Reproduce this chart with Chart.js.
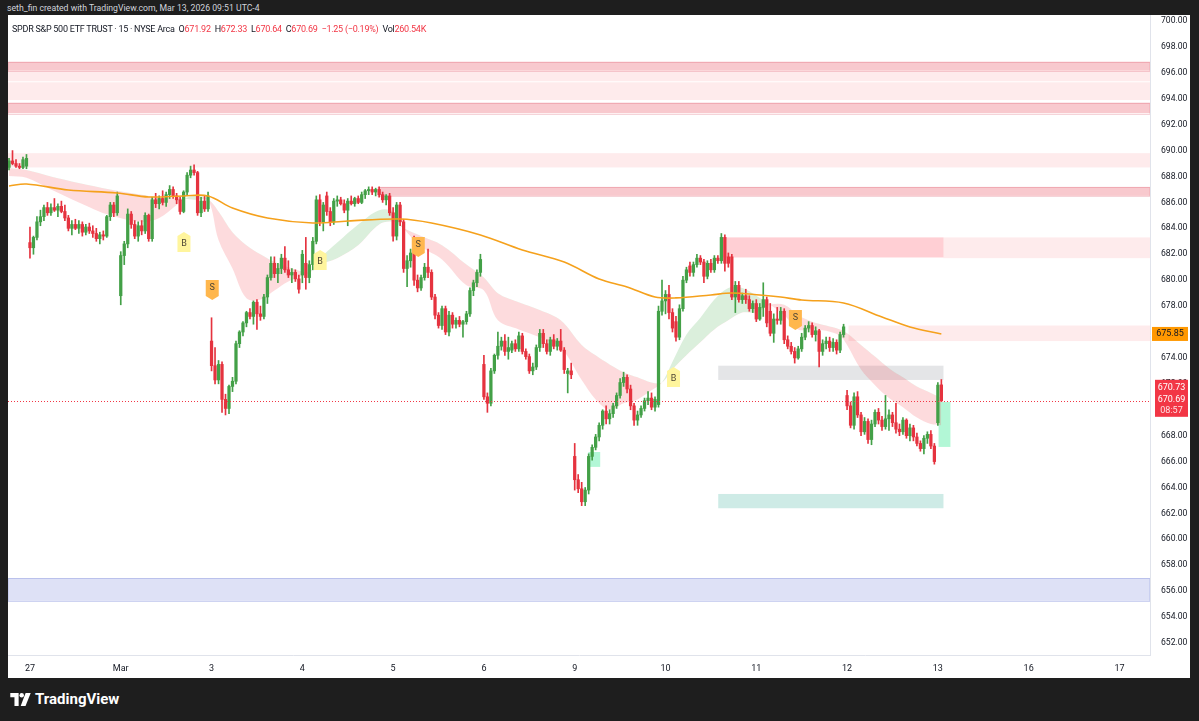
<!DOCTYPE html>
<html><head><meta charset="utf-8">
<script src="https://cdn.jsdelivr.net/npm/chart.js@4.4.1/dist/chart.umd.min.js"></script>
<style>
html,body{margin:0;padding:0;background:#1e1e1e;width:1199px;height:721px;overflow:hidden;font-family:Roboto,"Liberation Sans",sans-serif;}
#credit{position:absolute;left:7px;top:2px;color:#d1d4dc;font-size:8.7px;line-height:12px;white-space:nowrap;}
#panel{position:absolute;left:8px;top:15px;width:1182px;height:663px;background:#fff;}
#cv{position:absolute;left:0;top:0;}
#legend{position:absolute;left:4px;top:9px;font-size:9px;letter-spacing:-0.25px;line-height:11px;color:#131722;white-space:nowrap;}
#legend .r{color:#f23645;}
#logo{position:absolute;left:10px;top:690px;color:#fff;font-size:15px;font-weight:bold;display:flex;align-items:center;gap:4px;font-family:Roboto,sans-serif;}
</style></head>
<body>
<div id="credit">seth_fin created with TradingView.com, Mar 13, 2026 09:51 UTC-4</div>
<div id="panel">
  <canvas id="cv" width="1182" height="663"></canvas>
  <div id="legend">SPDR S&amp;P 500 ETF TRUST · 15 · NYSE Arca &nbsp;O<span class="r">671.92</span> &nbsp;H<span class="r">672.33</span> &nbsp;L<span class="r">670.64</span> &nbsp;C<span class="r">670.69</span> &nbsp;<span class="r">−1.25 (−0.19%)</span> &nbsp;Vol<span class="r">260.54K</span></div>
</div>
<div id="logo"><svg width="21" height="13" viewBox="0 0 22 14"><path d="M0 0h9v14h-4.5V4.5H0z" fill="#fff"/><circle cx="12.3" cy="2.4" r="2.4" fill="#fff"/><path d="M16.5 0h5.5l-5.6 14h-5.2z" fill="#fff"/></svg><span>TradingView</span></div>
<script>
// ---- time axis (bar index of each session's first 15-min bar) ----
const dayIdx = [6, 32, 58, 84, 110, 136, 162, 188, 214, 240, 266, 292, 318];
const dayLabels = ['27', 'Mar', '3', '4', '5', '6', '9', '10', '11', '12', '13', '16', '17'];
const priceTicks = [652,654,656,658,660,662,664,666,668,670,672,674,676,678,680,682,684,686,688,690,692,694,696,698,700];

// ---- 15-minute OHLC candles, bar 0 = Feb 26 late session ----
const opens = [
 688.7,689.2,689.0,688.8,688.7,688.8,
 682.9,682.5,683.3,684.5,684.9,685.6,685.2,685.6,685.4,685.7,685.3,684.8,684.0,684.3,684.0,684.3,683.7,684.1,683.8,683.6,683.2,683.5,683.4,684.9,685.8,685.2,
 678.8,681.9,682.8,685.1,684.3,683.4,684.2,683.8,685.0,683.2,686.2,685.9,686.3,686.0,686.6,687.0,686.5,686.2,685.3,686.8,688.1,688.5,688.3,685.2,686.1,685.5,
 675.3,673.4,672.3,673.5,670.8,670.1,671.8,672.2,675.1,676.0,676.7,677.5,677.2,678.3,677.4,677.2,678.7,680.2,681.3,680.5,680.9,681.7,680.8,680.4,680.6,680.1,
 680.4,681.3,680.2,681.2,683.0,686.2,684.5,686.5,685.3,684.5,686.1,686.2,685.9,685.4,686.1,685.9,686.3,686.0,686.6,686.9,687.0,686.8,687.0,686.6,686.2,686.5,
 685.2,683.4,685.8,684.5,680.9,681.5,682.1,680.0,679.4,680.2,681.0,680.6,678.7,677.3,676.5,677.8,676.0,677.3,676.6,676.9,676.6,676.8,677.4,679.2,679.8,680.6,
 673.5,671.0,670.5,673.0,674.2,674.9,675.3,674.5,674.6,675.1,674.7,675.7,674.5,674.1,673.0,673.3,674.8,675.9,675.1,674.5,675.4,674.9,675.3,674.6,672.8,673.0,
 666.4,664.6,663.9,662.9,663.8,666.4,667.1,667.9,668.8,669.9,669.3,669.7,670.3,671.1,672.1,672.5,671.6,670.3,669.2,669.6,670.1,670.7,670.9,670.2,670.4,677.6,
 678.4,678.9,677.5,676.8,675.6,677.8,680.0,681.1,680.6,681.2,681.7,681.4,680.3,681.3,680.8,681.7,681.5,683.3,681.8,681.8,678.7,679.6,678.5,678.8,678.5,677.8,
 678.2,677.0,677.9,678.5,677.6,675.9,677.0,676.9,677.6,675.4,674.9,674.5,674.0,674.7,675.6,676.3,676.5,675.8,676.1,674.5,675.1,675.3,674.8,675.2,674.6,675.8,
 671.1,670.3,668.8,671.0,669.6,668.3,669.1,667.7,668.9,669.8,669.2,668.7,669.3,669.6,669.0,668.5,668.3,669.2,668.0,668.6,667.9,667.4,667.0,667.8,668.1,667.2,
 669.0,671.92];
const highs = [
 689.4,690.0,689.3,689.0,689.5,689.7,
 684.1,683.4,684.9,685.4,685.8,686.0,685.9,686.3,685.9,686.1,685.8,685.0,684.6,684.7,684.6,684.5,684.3,684.4,684.2,684.0,683.7,683.8,685.0,686.0,686.0,686.8,
 682.2,683.0,685.5,685.3,684.6,684.5,684.6,685.2,685.1,686.4,686.7,686.5,686.9,686.8,687.3,687.2,686.7,686.4,686.9,688.3,688.8,688.9,688.4,686.4,686.5,686.8,
 677.1,674.8,673.8,673.7,671.2,671.9,672.5,675.3,676.1,676.8,677.6,677.8,678.4,678.5,678.0,678.9,680.4,681.8,681.8,681.3,682.0,682.6,681.5,680.9,680.8,680.4,
 682.3,683.3,681.5,683.3,686.5,686.6,686.0,686.8,685.6,686.3,686.5,686.4,686.2,686.3,686.5,686.4,686.5,686.8,687.0,687.2,687.2,687.1,687.2,686.8,686.6,686.7,
 685.6,686.0,686.0,684.7,681.9,682.4,683.4,680.4,680.4,681.3,682.4,680.8,678.9,677.5,678.0,678.0,677.6,677.5,677.1,677.2,676.9,677.6,679.4,680.0,680.8,682.0,
 674.2,671.3,673.2,674.3,676.0,675.6,675.8,675.6,675.3,675.4,676.0,675.9,674.7,674.3,673.6,675.0,676.2,676.2,675.4,675.6,675.8,675.5,676.2,674.8,673.2,673.6,
 667.4,665.0,664.4,664.0,666.6,667.3,668.1,669.0,670.0,670.3,670.0,670.5,671.3,672.4,672.9,672.7,671.9,670.5,669.9,670.3,670.9,671.4,671.3,671.0,678.0,680.0,
 679.2,679.6,677.8,677.2,678.1,680.3,681.0,681.4,681.4,682.0,681.9,681.6,681.5,681.6,681.9,681.9,683.6,683.5,682.1,682.0,679.9,679.9,679.0,679.3,678.8,678.4,
 678.5,678.2,679.8,678.7,678.2,677.4,677.9,677.9,677.8,675.7,675.2,674.8,674.9,675.9,676.5,676.8,676.7,676.4,676.2,675.4,675.6,675.6,675.5,675.4,676.0,676.6,
 671.5,670.6,671.3,671.4,669.8,669.4,669.3,669.2,670.0,670.1,669.5,671.1,670.0,669.8,670.5,668.9,669.4,669.3,668.9,668.8,668.2,667.6,668.0,668.3,668.4,667.4,
 672.1,672.33];
const lows = [
 688.5,688.9,688.7,688.6,688.6,688.6,
 681.7,682.0,683.1,684.2,684.6,685.0,685.0,685.3,684.9,685.2,684.6,683.8,683.5,683.9,683.6,683.4,683.5,683.6,683.3,683.0,682.8,683.1,683.3,684.6,684.9,685.0,
 678.1,681.2,682.5,684.0,683.2,683.0,683.5,683.6,683.0,683.0,685.6,685.5,685.8,685.7,686.3,686.3,685.9,685.1,685.2,686.6,687.9,688.1,685.0,684.9,685.3,685.3,
 673.0,672.0,672.0,669.8,669.6,669.7,671.4,672.0,674.8,675.7,676.4,677.0,676.6,676.2,676.9,677.0,678.2,680.0,680.2,679.8,680.5,680.6,680.2,679.8,679.9,679.0,
 679.8,679.3,679.8,680.8,682.8,684.2,683.8,685.0,684.2,684.3,685.7,685.8,685.2,684.2,685.8,685.7,685.9,685.9,686.3,686.6,686.6,686.5,686.4,686.0,685.8,685.0,
 683.0,683.1,684.2,680.6,679.5,681.0,679.6,679.1,679.2,680.0,680.2,678.5,677.0,676.3,676.2,675.8,675.7,676.3,676.3,676.4,675.6,676.6,677.2,678.8,679.5,680.3,
 670.8,669.8,670.3,672.8,673.9,674.6,674.2,673.9,674.4,674.5,674.5,674.3,673.9,672.8,672.7,673.1,674.5,674.8,674.3,674.2,674.7,674.6,674.5,672.8,671.3,672.4,
 663.8,663.6,662.6,662.6,663.5,666.1,666.9,667.6,668.5,668.9,668.9,669.4,670.1,670.9,671.8,671.3,670.0,668.8,668.8,669.4,669.9,670.4,670.0,669.9,670.2,677.3,
 677.4,677.0,676.0,675.3,675.4,677.6,679.8,680.3,680.3,681.0,681.2,679.8,680.1,680.6,680.6,681.3,681.3,680.7,681.0,678.5,677.5,678.3,678.2,678.2,677.6,677.5,
 676.8,676.9,677.2,676.4,675.7,675.2,676.6,676.6,675.1,674.7,674.3,673.6,673.9,674.5,675.4,676.0,675.6,675.3,673.3,674.2,674.7,674.5,674.5,674.3,674.4,675.6,
 670.0,668.6,668.5,669.4,668.0,668.1,667.4,667.3,668.7,668.9,668.4,668.5,668.4,668.7,668.2,668.0,668.1,667.8,667.6,667.6,667.2,666.8,666.6,667.4,667.0,665.8,
 668.8,670.64];
const closes = [
 689.2,689.0,688.8,688.7,689.3,689.4,
 682.5,683.3,684.5,684.9,685.6,685.2,685.6,685.4,685.7,685.3,684.8,684.0,684.3,684.0,684.3,683.7,684.1,683.8,683.6,683.2,683.5,683.4,684.9,685.8,685.2,686.5,
 681.9,682.8,685.1,684.3,683.4,684.2,683.8,685.0,683.2,686.2,685.9,686.3,686.0,686.6,687.0,686.5,686.2,685.3,686.8,688.1,688.5,688.3,685.2,686.1,685.5,686.5,
 673.4,672.3,673.5,670.8,670.1,671.8,672.2,675.1,676.0,676.7,677.5,677.2,678.3,677.4,677.2,678.7,680.2,681.3,680.5,680.9,681.7,680.8,680.4,680.6,680.1,679.3,
 682.0,680.2,681.2,683.0,686.2,684.5,685.8,685.3,684.5,686.1,686.2,685.9,685.4,686.1,685.9,686.3,686.0,686.6,686.9,687.0,686.8,687.0,686.6,686.2,686.5,685.2,
 683.4,685.8,684.5,680.9,681.5,682.1,680.0,679.4,680.2,681.0,680.6,678.7,677.3,676.5,677.8,676.0,677.3,676.6,676.9,676.6,676.8,677.4,679.2,679.8,680.6,681.6,
 671.0,670.5,673.0,674.2,674.9,675.3,674.5,674.8,675.1,674.7,675.7,674.5,674.1,673.0,673.3,674.8,675.9,675.1,674.5,675.4,674.9,675.3,674.6,673.1,673.0,672.7,
 664.6,663.9,662.9,663.8,666.4,667.1,667.9,668.8,669.9,669.3,669.7,670.3,671.1,672.1,672.5,671.6,670.3,669.2,669.6,670.1,670.7,670.9,670.2,670.8,677.6,678.4,
 678.9,677.5,676.3,675.6,677.8,680.0,680.8,680.6,681.2,681.7,681.4,680.3,681.3,680.8,681.7,681.5,683.3,681.3,681.3,678.7,679.6,678.5,678.8,678.5,677.8,678.2,
 677.0,677.9,678.5,676.7,675.9,677.0,676.9,677.6,675.4,674.9,674.5,674.0,674.7,675.6,676.3,676.5,675.8,676.1,674.5,675.1,675.3,674.8,675.2,674.6,675.8,676.4,
 670.3,668.8,671.0,669.6,668.3,669.1,667.7,668.9,669.8,669.2,668.7,669.3,669.6,669.0,668.5,668.3,669.2,668.0,668.6,667.9,667.4,667.0,667.8,668.1,667.2,666.0,
 671.9,670.69];

// ---- trend ribbon (fast / slow averages) at sample bars ----
const ribbonIdx  = [0,5,12,20,29,38,43,48,50,53,57,60,64,68,72,76,80,86,88,94,100,106,110,113,118,124,131,136,140,146,152,158,164,168,172,176,180,184,187,190,194,198,202,206,210,214,218,222,226,230,234,238,240,244,248,252,256,260,264,267];
const ribbonFast = [688.04,687.9,687.0,686.0,685.0,684.5,684.8,685.8,686.25,686.5,686.2,683.1,680.9,678.6,678.5,679.2,679.9,680.6,681.4,682.9,684.3,685.4,685.3,684.0,682.6,681.6,679.6,679.2,676.9,676.2,675.6,674.8,672.3,670.8,670.0,670.5,670.8,671.5,672.1,673.7,675.8,677.1,678.5,679.4,679.4,678.8,678.1,677.3,676.2,676.2,676.1,675.7,675.0,673.1,671.9,670.9,670.2,669.4,668.9,668.8];
const ribbonSlow = [688.66,688.5,688.0,687.5,687.0,686.6,686.4,686.3,686.3,686.2,686.2,685.3,683.7,682.7,682.0,681.4,681.0,680.6,681.1,681.7,682.7,684.3,684.5,684.0,683.4,682.7,681.2,680.2,679.0,678.3,677.7,676.9,675.0,674.2,673.5,672.9,672.5,672.1,672.1,673.1,674.2,675.2,676.2,676.9,677.5,677.5,678.1,678.1,677.3,676.8,676.5,676.2,675.9,675.0,674.1,673.2,672.5,671.8,671.3,670.9];

// ---- long moving average (orange) ----
const maIdx = [0,5,17,31,40,50,57,64,74,87,97,112,121,135,147,159,169,177,185,191,201,207,215,221,227,239,250,258,267];
const maVal = [687.27,687.42,686.96,686.73,686.42,686.5,686.5,685.57,684.8,684.41,684.57,684.72,684.41,683.49,682.33,681.4,680.09,679.48,678.7,678.63,678.86,679.01,678.86,678.7,678.47,678.24,677.16,676.39,675.85];

// ---- price zones: [startBar, endBar, top, bottom, kind]  (null = chart edge) ----
const zoneStart = [null,null,null,null,null,105.7,203.7,267.6,240.4,203.1,203.1,null,165.9,266.2];
const zoneEnd   = [null,null,null,null,null,null,267.6,null,null,267.6,267.6,null,169.3,269.6];
const zoneTop   = [696.86,696.17,695.27,693.70,689.80,687.20,683.30,683.30,676.50,673.40,663.50,657.00,666.74,670.60];
const zoneBot   = [696.17,695.35,693.90,692.88,688.70,686.50,681.75,681.70,675.30,672.30,662.40,655.25,665.59,667.13];
const zoneKind  = ['dark','light','light','dark','light','dark','red','light','light','grey','mint','lav','bright','bright'];

// ---- buy / sell signals ----
const sigIdx   = [50.1, 58.2, 89.1, 117.2, 190.3, 225.2];
const sigPrice = [682.95, 679.24, 681.56, 682.56, 672.53, 676.93];
const sigType  = ['B','S','B','S','B','S'];

const lastPrice = 670.69, maLast = 675.85, prevHigh = 670.73, countdown = '08:57';

const GREEN = '#43a047', RED = '#e5333f';
const up = i => closes[i] >= opens[i];
const zoneStyle = {
  dark:  ['rgba(230,60,80,0.28)', 'rgba(210,60,80,0.22)'],
  light: ['rgba(242,54,69,0.10)', null],
  red:   ['rgba(255,82,100,0.28)', null],
  grey:  ['rgba(120,123,134,0.20)', null],
  mint:  ['rgba(8,153,129,0.20)', null],
  lav:   ['rgba(60,80,200,0.17)', 'rgba(60,80,200,0.25)'],
  bright:['rgba(0,230,118,0.30)', null]
};

const overlay = {
  id: 'overlay',
  beforeDatasetsDraw(chart) {
    const {ctx, chartArea: a, scales: {x, y}} = chart;
    ctx.save();
    ctx.beginPath(); ctx.rect(a.left, a.top, a.right - a.left, a.bottom - a.top); ctx.clip();
    for (let k = 0; k < zoneTop.length; k++) {
      const x0 = zoneStart[k] === null ? a.left : x.getPixelForValue(zoneStart[k]);
      const x1 = zoneEnd[k] === null ? a.right : x.getPixelForValue(zoneEnd[k]);
      const y0 = y.getPixelForValue(zoneTop[k]), y1 = y.getPixelForValue(zoneBot[k]);
      const [f, s] = zoneStyle[zoneKind[k]];
      ctx.fillStyle = f; ctx.fillRect(x0, y0, x1 - x0, y1 - y0);
      if (s) { ctx.strokeStyle = s; ctx.lineWidth = 1; ctx.strokeRect(x0, Math.round(y0) + 0.5, x1 - x0, Math.round(y1 - y0)); }
    }
    ctx.restore();
  },
  afterDatasetsDraw(chart) {
    const {ctx, chartArea: a, scales: {x, y}} = chart;
    ctx.save();
    const ly = Math.round(y.getPixelForValue(lastPrice)) + 0.5;
    ctx.strokeStyle = '#f23645'; ctx.lineWidth = 1; ctx.setLineDash([1, 2]);
    ctx.beginPath(); ctx.moveTo(a.left, ly); ctx.lineTo(a.right, ly); ctx.stroke();
    ctx.setLineDash([]);
    ctx.font = '9px Roboto, sans-serif'; ctx.textAlign = 'center'; ctx.textBaseline = 'middle';
    for (let k = 0; k < sigIdx.length; k++) {
      const cx = x.getPixelForValue(sigIdx[k]), cy = y.getPixelForValue(sigPrice[k]);
      const w = 13, h = 16, pt = 4, t = cy - (h + pt) / 2;
      const buy = sigType[k] === 'B';
      ctx.fillStyle = buy ? '#fff59d' : '#ffb74d';
      ctx.beginPath();
      if (buy) {
        ctx.moveTo(cx, t); ctx.lineTo(cx + w / 2, t + pt); ctx.lineTo(cx + w / 2, t + pt + h);
        ctx.lineTo(cx - w / 2, t + pt + h); ctx.lineTo(cx - w / 2, t + pt);
      } else {
        ctx.moveTo(cx - w / 2, t); ctx.lineTo(cx + w / 2, t); ctx.lineTo(cx + w / 2, t + h);
        ctx.lineTo(cx, t + h + pt); ctx.lineTo(cx - w / 2, t + h);
      }
      ctx.closePath(); ctx.fill();
      ctx.fillStyle = '#4e4636';
      ctx.fillText(sigType[k], cx, buy ? t + pt + h / 2 : t + h / 2);
    }
    ctx.restore();
  },
  afterDraw(chart) {
    const {ctx, chartArea: a, scales: {y}} = chart;
    ctx.save();
    ctx.textAlign = 'center'; ctx.textBaseline = 'middle';
    ctx.font = '9px Roboto, sans-serif';
    const L = a.right + 2, W = 36;
    const my = y.getPixelForValue(maLast);
    ctx.fillStyle = '#ff9800'; ctx.fillRect(L, my - 7, W, 14);
    ctx.fillStyle = '#131722'; ctx.fillText(maLast.toFixed(2), L + W / 2, my);
    const py = y.getPixelForValue(lastPrice);
    ctx.fillStyle = '#f23645'; ctx.fillRect(L + 3, py - 21, W - 3, 37);
    ctx.fillStyle = '#ffffff';
    ctx.fillText(prevHigh.toFixed(2), L + 3 + (W - 3) / 2, py - 13);
    ctx.fillText(lastPrice.toFixed(2), L + 3 + (W - 3) / 2, py - 1);
    ctx.fillStyle = 'rgba(255,255,255,0.85)';
    ctx.fillText(countdown, L + 3 + (W - 3) / 2, py + 10);
    ctx.restore();
  }
};

new Chart(document.getElementById('cv'), {
  type: 'bar',
  data: {
    datasets: [
      { type: 'line', data: ribbonIdx.map((v, k) => ({x: v, y: ribbonFast[k]})), borderWidth: 0, pointRadius: 0, tension: 0.35,
        fill: {target: '+1', above: 'rgba(76,175,80,0.20)', below: 'rgba(242,54,69,0.18)'}, order: 6 },
      { type: 'line', data: ribbonIdx.map((v, k) => ({x: v, y: ribbonSlow[k]})), borderWidth: 0, pointRadius: 0, tension: 0.35, fill: false, order: 5 },
      { type: 'bar', data: highs.map((h, i) => ({x: i, y: [lows[i], h]})), barThickness: 1, grouped: false,
        backgroundColor: c => up(c.dataIndex) ? GREEN : RED, order: 3 },
      { type: 'bar', data: opens.map((o, i) => ({x: i, y: [o, closes[i]]})), barThickness: 2.6, grouped: false, minBarLength: 1,
        backgroundColor: c => up(c.dataIndex) ? GREEN : RED, order: 2 },
      { type: 'line', data: maIdx.map((v, k) => ({x: v, y: maVal[k]})), borderColor: '#f5a11c', borderWidth: 1.6, pointRadius: 0, tension: 0.35, fill: false, order: 1 }
    ]
  },
  options: {
    responsive: false, animation: false, devicePixelRatio: 1,
    layout: {padding: 0},
    plugins: {legend: {display: false}, tooltip: {enabled: false}},
    scales: {
      x: {
        type: 'linear', min: -0.29, max: 326.75, offset: false,
        grid: {display: false}, border: {display: true, color: '#e0e3eb'},
        afterBuildTicks: s => { s.ticks = dayIdx.map(v => ({value: v})); },
        afterFit: s => { s.height = 23; s.paddingLeft = 0; s.paddingRight = 0; },
        ticks: {autoSkip: false, maxRotation: 0, padding: 0, color: '#131722', font: {size: 9, family: 'Roboto'},
          callback: (v, i) => dayLabels[i]}
      },
      y: {
        type: 'linear', position: 'right', min: 651.074, max: 700.463,
        grid: {display: false}, border: {display: true, color: '#e0e3eb'},
        afterBuildTicks: s => { s.ticks = priceTicks.map(v => ({value: v})); },
        afterFit: s => { s.width = 40; s.paddingTop = 0; s.paddingBottom = 0; },
        ticks: {padding: 3, color: '#131722', font: {size: 8.6, family: 'Roboto'}, callback: v => v.toFixed(2)}
      }
    }
  },
  plugins: [overlay]
});
</script>
</body></html>
